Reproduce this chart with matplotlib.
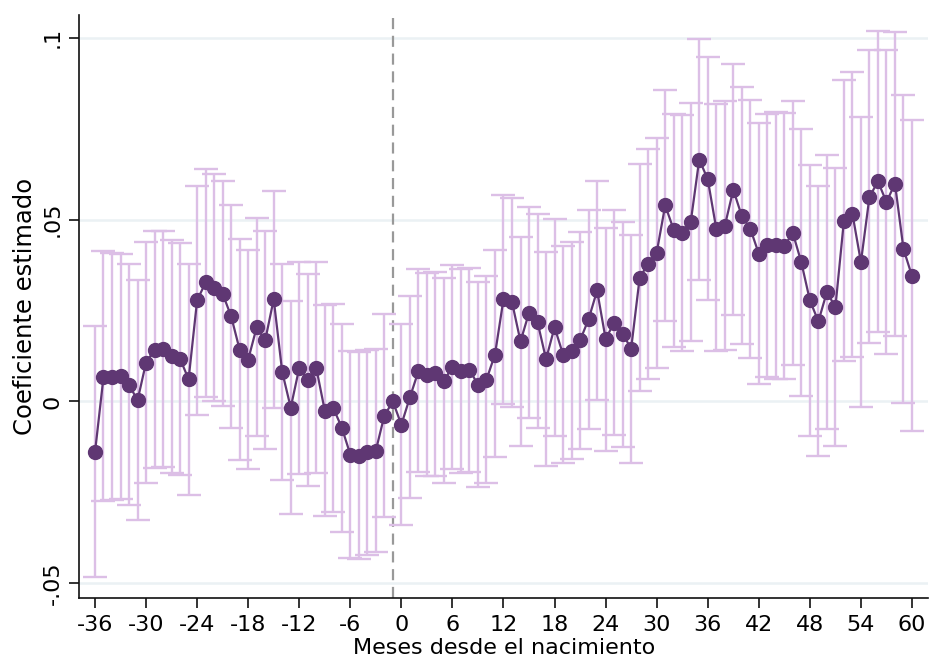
import numpy as np
import matplotlib
matplotlib.use("Agg")
import matplotlib.pyplot as plt

months = list(range(-36, 61))

coef = [-0.0140, 0.0067, 0.0067, 0.0071, 0.0046, 0.0003, 0.0107, 0.0142, 0.0143, 0.0124,
        0.0117, 0.0061, 0.0278, 0.0327, 0.0313, 0.0296, 0.0234, 0.0142, 0.0115, 0.0204,
        0.0168, 0.0281, 0.0081, -0.0017, 0.0092, 0.0058, 0.0092, -0.0025, -0.0018, -0.0072,
        -0.0146, -0.0151, -0.0140, -0.0135, -0.0039, 0.0, -0.0064, 0.0011, 0.0083, 0.0073,
        0.0078, 0.0056, 0.0096, 0.0083, 0.0087, 0.0046, 0.0060, 0.0129, 0.0281, 0.0273,
        0.0165, 0.0244, 0.0218, 0.0116, 0.0204, 0.0129, 0.0140, 0.0168, 0.0226, 0.0305,
        0.0172, 0.0216, 0.0186, 0.0145, 0.0340, 0.0379, 0.0409, 0.0539, 0.0472, 0.0463,
        0.0493, 0.0665, 0.0611, 0.0475, 0.0482, 0.0582, 0.0510, 0.0475, 0.0406, 0.0429,
        0.0429, 0.0428, 0.0463, 0.0382, 0.0278, 0.0220, 0.0301, 0.0259, 0.0497, 0.0516,
        0.0383, 0.0562, 0.0605, 0.0548, 0.0599, 0.0419, 0.0345]

upper = [0.0206, 0.0413, 0.0408, 0.0404, 0.0378, 0.0334, 0.0437, 0.0468, 0.0468, 0.0445,
         0.0436, 0.0379, 0.0592, 0.0640, 0.0625, 0.0606, 0.0539, 0.0446, 0.0417, 0.0504,
         0.0469, 0.0578, 0.0377, 0.0277, 0.0383, 0.0349, 0.0382, 0.0266, 0.0269, 0.0214,
         0.0140, 0.0135, 0.0141, 0.0145, 0.0241, 0.0, 0.0213, 0.0289, 0.0363, 0.0353,
         0.0355, 0.0338, 0.0375, 0.0363, 0.0368, 0.0328, 0.0344, 0.0415, 0.0567, 0.0559,
         0.0453, 0.0535, 0.0514, 0.0411, 0.0502, 0.0426, 0.0438, 0.0467, 0.0525, 0.0607,
         0.0478, 0.0525, 0.0493, 0.0457, 0.0652, 0.0694, 0.0725, 0.0857, 0.0791, 0.0787,
         0.0821, 0.0996, 0.0947, 0.0817, 0.0825, 0.0928, 0.0865, 0.0829, 0.0766, 0.0790,
         0.0795, 0.0794, 0.0826, 0.0750, 0.0649, 0.0592, 0.0677, 0.0642, 0.0883, 0.0906,
         0.0782, 0.0966, 0.1019, 0.0966, 0.1015, 0.0842, 0.0774]

lower = [-0.0483, -0.0275, -0.0272, -0.0268, -0.0286, -0.0327, -0.0224, -0.0182, -0.0181, -0.0197,
         -0.0202, -0.0256, -0.0037, 0.0012, 0.0001, -0.0012, -0.0073, -0.0162, -0.0187, -0.0095,
         -0.0130, -0.0017, -0.0215, -0.0309, -0.0200, -0.0233, -0.0197, -0.0315, -0.0305, -0.0360,
         -0.0430, -0.0434, -0.0422, -0.0415, -0.0318, 0.0, -0.0339, -0.0266, -0.0194, -0.0204,
         -0.0204, -0.0224, -0.0186, -0.0198, -0.0195, -0.0235, -0.0223, -0.0154, -0.0006, -0.0014,
         -0.0123, -0.0045, -0.0074, -0.0178, -0.0094, -0.0169, -0.0159, -0.0132, -0.0076, 0.0003,
         -0.0135, -0.0092, -0.0124, -0.0169, 0.0028, 0.0062, 0.0093, 0.0221, 0.0151, 0.0139,
         0.0166, 0.0333, 0.0278, 0.0138, 0.0142, 0.0237, 0.0159, 0.0120, 0.0049, 0.0067,
         0.0062, 0.0062, 0.0099, 0.0014, -0.0095, -0.0151, -0.0075, -0.0122, 0.0110, 0.0122,
         -0.0014, 0.0160, 0.0191, 0.0131, 0.0181, -0.0005, -0.0082]

xticks = list(range(-36, 61, 6))
yticks = [-0.05, 0.0, 0.05, 0.1]
ytick_labels = ["-.05", "0", ".05", ".1"]
ref_month = -1

x = np.array(months)
c = np.array(coef)
up = np.array(upper)
lo = np.array(lower)

fig = plt.figure(figsize=(9.32, 6.61), dpi=100)
ax = fig.add_axes([0.0853, 0.0949, 0.9104, 0.8824])

for yv in yticks:
    ax.axhline(yv, color="#ebf1f4", lw=1.8, zorder=0)

ax.axvline(ref_month, color="#999999", lw=1.6, ls=(0, (5, 3)), zorder=1)

mask = x != ref_month
ax.errorbar(x[mask], c[mask], yerr=[c[mask] - lo[mask], up[mask] - c[mask]],
            fmt="none", ecolor="#dcbfe6", elinewidth=1.7, capsize=8.5, capthick=1.7, zorder=2)
ax.plot(x, c, color="#5f3773", lw=1.6, zorder=3)
ax.plot(x, c, "o", color="#5f3773", ms=10, mec="#5f3773", zorder=4)

ax.set_xlim(-37.82, 61.88)
ax.set_ylim(-0.05412, 0.10624)
ax.set_xticks(xticks)
ax.set_xticklabels([str(t) for t in xticks])
ax.set_yticks(yticks)
ax.set_yticklabels(ytick_labels, rotation=90, va="center")

for s in ["top", "right"]:
    ax.spines[s].set_visible(False)
for s in ["left", "bottom"]:
    ax.spines[s].set_color("#111111")
    ax.spines[s].set_linewidth(1.2)

ax.tick_params(axis="both", direction="out", length=7, width=1.2, color="#111111",
               labelsize=16, pad=5)
ax.set_xlabel("Meses desde el nacimiento", fontsize=16, labelpad=2)
ax.set_ylabel("Coeficiente estimado", fontsize=17.5, labelpad=4)

fig.savefig("out.png", dpi=100)
